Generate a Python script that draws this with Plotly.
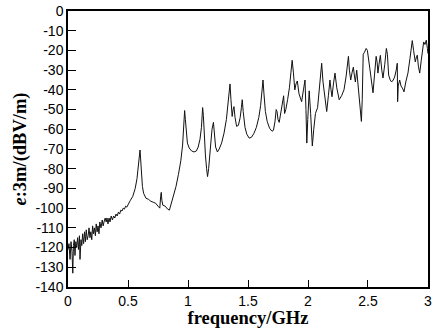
import plotly.graph_objects as go

frequency_ghz = [
    0.000, 0.008, 0.017, 0.025, 0.033, 0.040, 0.045, 0.052, 0.058, 0.065, 0.072, 0.080, 0.087, 0.095,
    0.100, 0.108, 0.115, 0.122, 0.130, 0.138, 0.145, 0.152, 0.160, 0.168, 0.175, 0.183, 0.190, 0.198,
    0.205, 0.212, 0.220, 0.228, 0.235, 0.243, 0.250, 0.258, 0.265, 0.275, 0.285, 0.293, 0.300, 0.310,
    0.318, 0.325, 0.333, 0.342, 0.350, 0.360, 0.370, 0.380, 0.390, 0.400, 0.410, 0.420, 0.430, 0.440,
    0.450, 0.460, 0.470, 0.480, 0.490, 0.500, 0.510, 0.520, 0.540, 0.560, 0.575, 0.585, 0.595, 0.600,
    0.605, 0.612, 0.620, 0.630, 0.650, 0.670, 0.690, 0.710, 0.730, 0.750, 0.765, 0.772, 0.777, 0.782,
    0.790, 0.810, 0.830, 0.845, 0.860, 0.880, 0.900, 0.920, 0.940, 0.955, 0.965, 0.972, 0.978, 0.985,
    0.995, 1.010, 1.030, 1.050, 1.070, 1.085, 1.100, 1.112, 1.122, 1.128, 1.135, 1.145, 1.155, 1.163,
    1.172, 1.185, 1.200, 1.212, 1.220, 1.230, 1.245, 1.260, 1.280, 1.300, 1.320, 1.335, 1.345, 1.350,
    1.358, 1.368, 1.376, 1.383, 1.392, 1.405, 1.420, 1.435, 1.445, 1.452, 1.460, 1.475, 1.490, 1.510,
    1.530, 1.550, 1.570, 1.590, 1.605, 1.615, 1.625, 1.633, 1.645, 1.660, 1.680, 1.700, 1.712, 1.725,
    1.735, 1.742, 1.750, 1.760, 1.775, 1.790, 1.797, 1.805, 1.815, 1.830, 1.845, 1.858, 1.868, 1.878,
    1.890, 1.900, 1.911, 1.925, 1.947, 1.962, 1.975, 1.983, 1.990, 1.998, 2.010, 2.022, 2.036, 2.048,
    2.062, 2.080, 2.095, 2.108, 2.114, 2.125, 2.140, 2.156, 2.170, 2.183, 2.192, 2.200, 2.212, 2.225,
    2.240, 2.260, 2.280, 2.300, 2.318, 2.330, 2.337, 2.345, 2.356, 2.368, 2.378, 2.387, 2.395, 2.406,
    2.418, 2.432, 2.445, 2.452, 2.460, 2.470, 2.485, 2.495, 2.505, 2.515, 2.530, 2.542, 2.555, 2.568,
    2.576, 2.583, 2.592, 2.603, 2.615, 2.625, 2.640, 2.653, 2.662, 2.672, 2.685, 2.697, 2.710, 2.722,
    2.735, 2.744, 2.747, 2.752, 2.764, 2.775, 2.790, 2.800, 2.815, 2.833, 2.850, 2.862, 2.869, 2.880,
    2.894, 2.905, 2.911, 2.920, 2.931, 2.944, 2.955, 2.964, 2.975, 2.986, 2.995, 3.000,
]

field_dbv_m = [
    -121, -118, -126, -117, -122, -133, -119, -116, -124, -117, -120, -115, -121, -114,
    -126, -116, -119, -113, -118, -112, -117, -111, -116, -114, -110, -115, -112, -116,
    -109, -113, -110, -114, -108, -112, -109, -113, -107, -110, -106, -109, -107, -105,
    -107, -105, -108, -105, -107, -104, -106, -104, -105, -103, -104, -102, -103, -101,
    -101.5, -100, -100.5, -99, -99.5, -98, -97.5, -96, -94, -90, -85, -80, -73, -70.5,
    -75, -84, -89, -92.5, -95, -95.5, -96.5, -97, -97.5, -99, -100, -94, -92, -96,
    -98.5, -99, -100.5, -101, -98, -94, -89, -83, -76, -68, -60, -50.5, -55, -62,
    -67, -69.5, -71, -71.5, -71, -69, -65, -59, -49, -53, -64, -73, -80, -84,
    -80, -70, -60, -56.5, -63, -69, -71.5, -70, -67, -62, -55, -47, -40, -37,
    -45, -53.5, -50, -48.5, -54, -58.5, -58, -54, -49, -45, -51, -59, -62.5, -64.5,
    -64, -62, -59, -54, -48, -42, -35, -42, -51, -56, -59.5, -61, -60.5, -56,
    -50, -51, -55, -56.5, -51, -44, -43, -52, -50, -45, -39, -31, -25, -31,
    -40, -37, -35.5, -42, -46, -40, -35, -50, -67, -55, -40.5, -52, -68.5, -60,
    -52, -49, -40, -30, -26.5, -36, -45, -51, -43, -35, -40, -43.5, -37, -31.5,
    -39, -45, -43, -40, -33, -25, -23, -30, -35, -31, -28.5, -33, -36, -30,
    -38, -47, -56, -45, -22, -21, -19, -20, -26, -29, -36, -41.5, -32, -23,
    -26, -31.5, -27, -22.5, -30, -34, -27, -19, -22, -32.5, -35, -36, -35, -33.5,
    -30, -26.5, -46, -38, -35, -38, -39.5, -41, -36, -31.5, -24, -17, -15, -20,
    -25.8, -23, -22.4, -28, -31.5, -25, -19, -15.7, -17, -14.8, -19, -21.6,
]

x_ticks = [0, 0.5, 1, 1.5, 2, 2.5, 3]
x_tick_labels = ["0", "0.5", "1", "1.5", "2", "2.5", "3"]
y_ticks = list(range(-140, 1, 10))
y_tick_labels = [str(v) for v in y_ticks]

fig = go.Figure()
fig.add_trace(go.Scatter(
    x=frequency_ghz, y=field_dbv_m, mode="lines",
    line=dict(color="#111111", width=1), showlegend=False,
))

axis_common = dict(
    showline=True, linecolor="black", linewidth=1.5, mirror=True,
    ticks="inside", tickcolor="black", tickwidth=1.2,
    showgrid=False, zeroline=False, automargin=False,
    tickfont=dict(family="Liberation Sans, Arial", size=14, color="black"),
)

title_font = dict(family="Liberation Serif, Times New Roman", size=18.5, color="black", weight="bold")

fig.update_layout(
    width=435, height=328,
    margin=dict(l=68, r=7, t=11, b=41),
    plot_bgcolor="white", paper_bgcolor="white",
    xaxis=dict(
        range=[-0.0001, 3.0001], tickvals=x_ticks, ticktext=x_tick_labels, ticklen=7,
        title=dict(text="frequency/GHz", standoff=0, font=title_font),
        **axis_common,
    ),
    yaxis=dict(
        range=[-140, 0], tickvals=y_ticks, ticktext=y_tick_labels, ticklen=8,
        title=dict(text="<i>e</i>:3m/(dBV/m)", standoff=4, font=title_font),
        **axis_common,
    ),
)

fig.write_html("out.html", config={"displayModeBar": False},
               post_script="document.body.style.margin='0';document.body.style.padding='0';")
